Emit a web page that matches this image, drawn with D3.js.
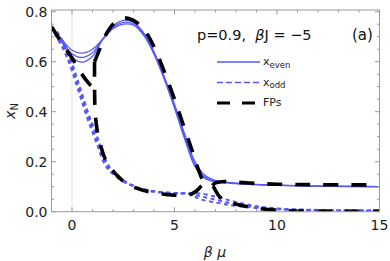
<!DOCTYPE html>
<html>
<head>
<meta charset="utf-8">
<script src="https://cdn.jsdelivr.net/npm/d3@7"></script>
<style>
  body { margin: 0; background: #fff; }
  svg { display: block; }
  text { font-family: "DejaVu Sans", "Liberation Sans", sans-serif; }
</style>
</head>
<body>
<svg id="chart" width="390" height="261"></svg>
<script>
// values
var muEven = [-1, -0.5, 0, 0.5, 1, 1.5, 2, 2.5, 3, 3.5, 4, 4.5, 5, 5.5, 6, 6.5, 7, 7.5, 8, 9, 10, 12, 15];
var xEven1 = [0.74, 0.678, 0.618, 0.598, 0.622, 0.69, 0.742, 0.765, 0.758, 0.715, 0.64, 0.54, 0.43, 0.31, 0.2, 0.145, 0.125, 0.118, 0.114, 0.109, 0.106, 0.102, 0.1];
var xEven2 = [0.74, 0.684, 0.632, 0.617, 0.636, 0.69, 0.737, 0.757, 0.752, 0.71, 0.635, 0.535, 0.422, 0.3, 0.19, 0.138, 0.122, 0.117, 0.113, 0.108, 0.105, 0.102, 0.1];
var xEven3 = [0.74, 0.69, 0.646, 0.634, 0.65, 0.69, 0.732, 0.75, 0.746, 0.705, 0.63, 0.53, 0.415, 0.29, 0.18, 0.132, 0.12, 0.116, 0.112, 0.108, 0.105, 0.102, 0.1];

var muOdd = [-1, -0.75, -0.5, -0.25, 0, 0.25, 0.5, 0.75, 1, 1.25, 1.5, 1.75, 2, 2.5, 3, 3.5, 4, 5, 5.75, 6.25, 7, 7.7, 8.2, 9, 10, 11, 13, 15];
var xOdd1 = [0.74, 0.722, 0.69, 0.648, 0.595, 0.532, 0.47, 0.405, 0.35, 0.295, 0.233, 0.19, 0.16, 0.126, 0.104, 0.09, 0.082, 0.075, 0.074, 0.073, 0.06, 0.045, 0.035, 0.022, 0.013, 0.009, 0.006, 0.005];
var xOdd2 = [0.74, 0.71, 0.676, 0.633, 0.579, 0.516, 0.453, 0.389, 0.334, 0.279, 0.219, 0.18, 0.155, 0.123, 0.103, 0.089, 0.081, 0.074, 0.072, 0.062, 0.048, 0.035, 0.028, 0.018, 0.011, 0.008, 0.005, 0.004];
var xOdd3 = [0.74, 0.698, 0.662, 0.618, 0.563, 0.5, 0.436, 0.373, 0.318, 0.263, 0.205, 0.17, 0.15, 0.12, 0.102, 0.088, 0.08, 0.073, 0.07, 0.05, 0.037, 0.027, 0.022, 0.015, 0.01, 0.007, 0.005, 0.004];

// fixed point branches
var fpLeftMu = [-1, -0.5, 0, 0.4, 0.8, 1.1];
var fpLeftX = [0.74, 0.675, 0.615, 0.56, 0.515, 0.49];
var fpLowMu = [1.1, 1.1, 1.13, 1.22, 1.4, 1.6, 1.9, 2.2, 2.7, 3.5, 4.5, 5.2, 5.8, 6.1, 6.35, 6.6, 6.85, 7.0, 7.2, 7.6, 8.2, 9, 10, 11, 15];
var fpLowX = [0.6, 0.5, 0.4, 0.33, 0.265, 0.215, 0.175, 0.145, 0.11, 0.085, 0.07, 0.065, 0.07, 0.085, 0.105, 0.113, 0.105, 0.085, 0.06, 0.04, 0.026, 0.014, 0.006, 0.003, 0.002];
var fpUpMu = [1.1, 1.3, 1.6, 2, 2.5, 3, 3.5, 4, 4.5, 5, 5.5, 5.9, 6.2, 6.4, 6.6];
var fpUpX = [0.6, 0.64, 0.7, 0.75, 0.775, 0.765, 0.73, 0.66, 0.56, 0.45, 0.33, 0.235, 0.16, 0.125, 0.113];
var fpRightMu = [6.85, 7.0, 7.3, 8, 9, 10, 12, 15];
var fpRightX = [0.105, 0.115, 0.12, 0.118, 0.113, 0.11, 0.108, 0.107];

var xTicks = [0, 5, 10, 15];
var yTicks = [0, 0.2, 0.4, 0.6, 0.8];

var blue = '#5858f6';
var frameCol = '#9a9a9a';

var svg = d3.select('#chart');
var x = d3.scaleLinear().domain([-1, 15]).range([51.5, 379.5]);
var y = d3.scaleLinear().domain([0, 0.8068]).range([211.7, 10]);

function zip(a, b) {
    return a.map(function(d, i) { return [d, b[i]]; });
}

svg.append('defs').append('clipPath').attr('id', 'clip')
    .append('rect')
    .attr('x', x(-1)).attr('y', y(0.8068))
    .attr('width', x(15) - x(-1)).attr('height', y(0) - y(0.8068));

// light line at mu = 0
svg.append('line')
    .attr('x1', x(0)).attr('x2', x(0))
    .attr('y1', y(0)).attr('y2', y(0.8068))
    .attr('stroke', '#e2e2e2').attr('stroke-width', 1);

var line = d3.line()
    .x(function(d) { return x(d[0]); })
    .y(function(d) { return y(d[1]); })
    .curve(d3.curveCatmullRom.alpha(0.5));

var plot = svg.append('g').attr('clip-path', 'url(#clip)');

[xEven1, xEven2, xEven3].forEach(function(s) {
    plot.append('path')
        .attr('d', line(zip(muEven, s)))
        .attr('fill', 'none')
        .attr('stroke', blue)
        .attr('stroke-width', 1.3);
});

[xOdd1, xOdd2, xOdd3].forEach(function(s) {
    plot.append('path')
        .attr('d', line(zip(muOdd, s)))
        .attr('fill', 'none')
        .attr('stroke', blue)
        .attr('stroke-width', 2)
        .attr('stroke-dasharray', '4,3.5');
});

[[fpLeftMu, fpLeftX], [fpLowMu, fpLowX], [fpUpMu, fpUpX], [fpRightMu, fpRightX]].forEach(function(b) {
    plot.append('path')
        .attr('d', line(zip(b[0], b[1])))
        .attr('fill', 'none')
        .attr('stroke', '#000')
        .attr('stroke-width', 3.6)
        .attr('stroke-dasharray', '15,13');
});

// frame
svg.append('rect')
    .attr('x', x(-1)).attr('y', y(0.8068))
    .attr('width', x(15) - x(-1)).attr('height', y(0) - y(0.8068))
    .attr('fill', 'none').attr('stroke', frameCol).attr('stroke-width', 1);

var xMinor = d3.range(-1, 16, 1).filter(function(d) { return xTicks.indexOf(d) < 0; });
var yMinor = d3.range(0, 0.81, 0.05).filter(function(d) {
    return yTicks.every(function(t) { return Math.abs(t - d) > 1e-6; });
});

function tickMarks(vals, len, horizontal) {
    vals.forEach(function(v) {
        if (horizontal) {
            svg.append('line').attr('x1', x(v)).attr('x2', x(v)).attr('y1', y(0)).attr('y2', y(0) - len)
                .attr('stroke', frameCol);
            svg.append('line').attr('x1', x(v)).attr('x2', x(v)).attr('y1', y(0.8068)).attr('y2', y(0.8068) + len)
                .attr('stroke', frameCol);
        } else {
            svg.append('line').attr('y1', y(v)).attr('y2', y(v)).attr('x1', x(-1)).attr('x2', x(-1) + len)
                .attr('stroke', frameCol);
            svg.append('line').attr('y1', y(v)).attr('y2', y(v)).attr('x1', x(15)).attr('x2', x(15) - len)
                .attr('stroke', frameCol);
        }
    });
}
tickMarks(xTicks, 4.5, true);
tickMarks(xMinor, 2.5, true);
tickMarks(yTicks, 4.5, false);
tickMarks(yMinor, 2.5, false);

svg.selectAll('.xlab')
    .data(xTicks)
    .enter()
    .append('text')
    .attr('x', function(d) { return x(d); })
    .attr('y', 230)
    .attr('text-anchor', 'middle')
    .attr('font-size', 14)
    .attr('fill', '#222')
    .text(function(d) { return d; });

svg.selectAll('.ylab')
    .data(yTicks)
    .enter()
    .append('text')
    .attr('x', 47.5)
    .attr('y', function(d) { return y(d) + 5; })
    .attr('text-anchor', 'end')
    .attr('font-size', 14)
    .attr('fill', '#222')
    .text(function(d) { return d3.format('.1f')(d); });

// axis titles
var yt = svg.append('text')
    .attr('transform', 'translate(15,111) rotate(-90)')
    .attr('text-anchor', 'middle')
    .attr('font-size', 14)
    .attr('fill', '#222');
yt.append('tspan').attr('font-style', 'italic').text('x');
yt.append('tspan').attr('font-size', 10).attr('dy', 3).text('N');

svg.append('text')
    .attr('x', 215).attr('y', 257)
    .attr('text-anchor', 'middle')
    .attr('font-size', 14)
    .attr('font-style', 'italic')
    .attr('fill', '#222')
    .text('β μ');

// annotations
var t = svg.append('text').attr('x', 197).attr('y', 40).attr('font-size', 14.5).attr('fill', '#111');
t.append('tspan').text('p=0.9,\u00a0\u00a0');
t.append('tspan').attr('font-style', 'italic').text('β');
t.append('tspan').text('J = −5');

svg.append('text')
    .attr('x', 352).attr('y', 40)
    .attr('font-family', '"Liberation Serif", "DejaVu Serif", serif')
    .attr('font-size', 15)
    .attr('fill', '#111')
    .text('(a)');

// legend
var legend = [
    {name: 'x', sub: 'even', color: blue, width: 1.5, dash: null},
    {name: 'x', sub: 'odd', color: blue, width: 1.5, dash: '6,3'},
    {name: 'FPs', sub: '', color: '#000', width: 3.2, dash: '13,12'}
];
var lg = svg.selectAll('.leg')
    .data(legend)
    .enter()
    .append('g')
    .attr('transform', function(d, i) { return 'translate(217,' + (62 + i * 20.5) + ')'; });
lg.append('line')
    .attr('x1', 0).attr('x2', 43)
    .attr('stroke', function(d) { return d.color; })
    .attr('stroke-width', function(d) { return d.width; })
    .attr('stroke-dasharray', function(d) { return d.dash; });
var lt = lg.append('text')
    .attr('x', 46).attr('y', 3)
    .attr('font-size', 11)
    .attr('fill', '#222');
lt.append('tspan').text(function(d) { return d.name; });
lt.append('tspan').attr('font-size', 8.5).attr('dy', 2.5).text(function(d) { return d.sub; });
</script>
</body>
</html>
